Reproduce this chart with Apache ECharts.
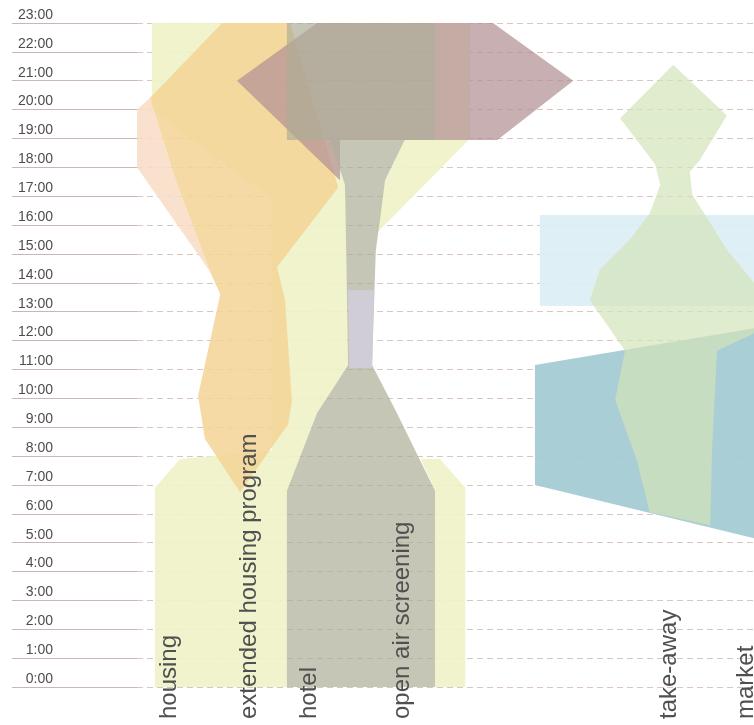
<!DOCTYPE html>
<html>
<head>
<meta charset="utf-8">
<script src="https://cdn.jsdelivr.net/npm/echarts@6/dist/echarts.min.js"></script>
<style>
html,body{margin:0;padding:0;background:#fff;}
#chart{width:754px;height:725px;}
</style>
</head>
<body>
<div id="chart"></div>
<script>
// ---- tick labels (hours of the day) ----
const hourLabels = ['0:00','1:00','2:00','3:00','4:00','5:00','6:00','7:00','8:00','9:00','10:00','11:00',
  '12:00','13:00','14:00','15:00','16:00','17:00','18:00','19:00','20:00','21:00','22:00','23:00'];

// ---- programme names and where their names sit on the x scale ----
const programs = ['housing','extended housing program','hotel','open air screening','take-away','market'];
const labelX = [5.3, 18.2, 28.0, 43.0, 86.3, 98.8];

// ---- programme outlines: [position, hour] pairs ----
const housingWest = [[2.4,23],[24.3,23],[24.3,18.95],[31.3,18.95],[33.7,17.4],[33.9,15.1],[34.2,11.15],
  [32.4,10.55],[29.2,9.5],[24.3,6.8],[24.3,0],[2.9,0],[2.9,6.9],[7,7.9],[21.9,8.2],[21.9,16.9],[2.4,20]];
const housingEastTop = [[48.3,23],[54,23],[54,19],[38.75,15.7],[40.2,17.55],[43.4,18.95],[48.3,18.95]];
const housingEastLow = [[46,7.9],[49.1,7.9],[53.2,6.9],[53.2,0],[48.3,0],[48.3,6.8]];
const extendedLobe = [[2.1,20.4],[0,20],[0,18],[11.8,14.4],[6.2,17.6]];
const extendedShape = [[13.8,23],[24.8,23],[32.6,17.3],[22.7,14.55],[24,13.4],[25.1,9.9],[24.5,9.1],
  [16.7,6.75],[11,8.6],[9.9,10.1],[13.5,13.6],[11.8,14.4],[6.2,17.6],[2.1,20.4]];
const hotelShape = [[24.3,23],[48.3,23],[48.3,18.95],[43.4,18.95],[40.2,17.55],[38.7,15.1],[38.1,11.15],
  [42.1,9.5],[48.3,6.8],[48.3,0],[24.3,0],[24.3,6.8],[29.2,9.5],[32.4,10.55],[34.2,11.15],[33.9,15.1],
  [33.7,17.4],[31.3,18.95],[24.3,18.95]];
const screeningTop = [[29.2,23],[57.7,23],[70.7,21],[58.4,18.95],[32.9,18.95],[32.9,17.55],[16.2,21]];
const screeningStem = [[34.2,13.75],[38.4,13.75],[38.1,11.05],[34.4,11.05]];
const marketDay = [[65.3,16.35],[102,16.35],[102,13.2],[65.3,13.2]];
const marketMorning = [[64.5,11.15],[102,12.5],[102,5.05],[64.5,7.0]];
const takeAwayShape = [[86.9,21.55],[95.6,19.8],[91.2,18.25],[89.6,17.85],[90,17.05],[92.1,16.35],
  [95.6,15.15],[101,13.75],[101,12.35],[94,11.65],[93.2,8.2],[92.9,5.6],[83.1,6.05],[81,7.85],
  [77.5,9.95],[79.1,11.65],[73.4,13.4],[75,14.45],[79.9,15.5],[83.1,16.4],[84.8,17.4],[84,18.1],[78.3,19.7]];

// ---- styles (kept apart from the data) ----
const styles = {
  housing:       {fill:'#eef2c6', opacity:0.9},
  extendedLobe:  {fill:'#f9dcc4', opacity:0.85},
  extended:      {fill:'#f5d495', opacity:0.85},
  screeningTop:  {fill:'#b39094', opacity:0.72},
  hotel:         {fill:'#acac95', opacity:0.69},
  screeningStem: {fill:'#d2ced8', opacity:0.95},
  marketDay:     {fill:'#dcedf5', opacity:0.9},
  marketMorning: {fill:'#a5cbd3', opacity:0.95},
  takeAway:      {fill:'#d3e4b9', opacity:0.7}
};

const shapes = [
  {key:'housing', pts:housingWest},
  {key:'housing', pts:housingEastTop},
  {key:'housing', pts:housingEastLow},
  {key:'extendedLobe', pts:extendedLobe},
  {key:'extended', pts:extendedShape},
  {key:'screeningTop', pts:screeningTop},
  {key:'hotel', pts:hotelShape},
  {key:'screeningStem', pts:screeningStem},
  {key:'marketDay', pts:marketDay},
  {key:'marketMorning', pts:marketMorning},
  {key:'takeAway', pts:takeAwayShape}
];

const chart = echarts.init(document.getElementById('chart'), null, {renderer:'canvas'});
chart.setOption({
  backgroundColor:'#ffffff',
  animation:false,
  grid:{left:137, right:0, top:23, bottom:38, containLabel:false},
  xAxis:{type:'value', min:0, max:100, show:false},
  yAxis:{
    type:'value', min:0, max:23, interval:1,
    axisLine:{show:false},
    axisTick:{show:true, length:125, lineStyle:{color:'#c9b7b1', width:1}},
    axisLabel:{
      margin:84, fontSize:14, color:'#4d4d4d',
      fontFamily:'"Liberation Sans", Arial, sans-serif',
      verticalAlign:'bottom', padding:[0,0,1,0],
      formatter:function(v){ return hourLabels[v]; }
    },
    splitLine:{show:true, lineStyle:{color:'#d9c6c0', width:1, type:[6,4]}}
  },
  series:[
    {
      type:'custom', silent:true, z:2,
      data: shapes.map(function(s){ return [s.pts[0][0], s.pts[0][1]]; }),
      renderItem:function(params, api){
        const s = shapes[params.dataIndex];
        const pts = s.pts.map(function(p){ return api.coord(p); });
        return {type:'polygon', shape:{points:pts}, style:{fill:styles[s.key].fill, opacity:styles[s.key].opacity}};
      }
    },
    {
      type:'custom', silent:true, z:5,
      data: labelX.map(function(x){ return [x, 0]; }),
      renderItem:function(params, api){
        const p = api.coord([api.value(0), 0]);
        return {
          type:'text', x:p[0], y:p[1] + 32, rotation:Math.PI/2,
          style:{text:programs[params.dataIndex], fill:'#505050',
            font:'24px "Liberation Sans", Arial, sans-serif', align:'left', verticalAlign:'middle'}
        };
      }
    }
  ]
});
</script>
</body>
</html>
